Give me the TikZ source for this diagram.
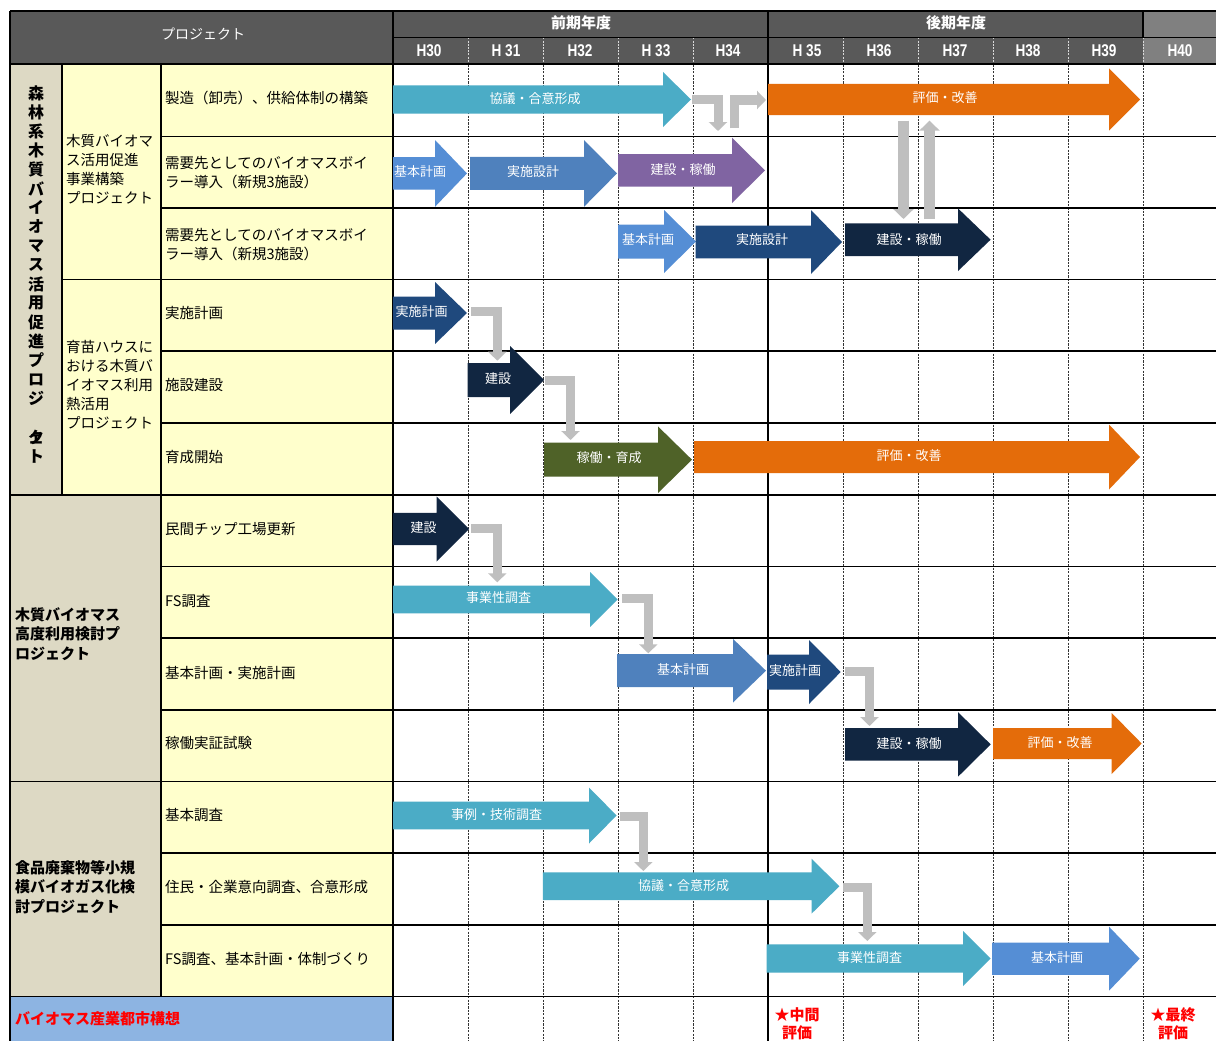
\documentclass[tikz,border=0pt]{standalone}
\usepackage{fontspec}
\setmainfont{Noto Sans CJK JP}
\newfontfamily\yearf[FakeStretch=0.8]{Liberation Sans}
\usetikzlibrary{arrows.meta}
\definecolor{hdr}{HTML}{595959}
\definecolor{hdrl}{HTML}{808080}
\definecolor{beige}{HTML}{DDD9C4}
\definecolor{cream}{HTML}{FFFFCC}
\definecolor{lastb}{HTML}{8DB4E2}
\definecolor{teal}{HTML}{4BACC6}
\definecolor{lblue}{HTML}{558ED5}
\definecolor{mblue}{HTML}{4F81BD}
\definecolor{purp}{HTML}{8064A2}
\definecolor{navy}{HTML}{1F497D}
\definecolor{dnavy}{HTML}{112641}
\definecolor{orng}{HTML}{E46C0A}
\definecolor{olive}{HTML}{4F6228}
\definecolor{cgray}{HTML}{BFBFBF}
\definecolor{redt}{HTML}{FF0000}
% color, x left, x head start, x tip, y centre, half body, half head
\newcommand\blockarrow[7]{%
  \fill[#1] (#2,#5-#6) -- (#3,#5-#6) -- (#3,#5-#7) -- (#4,#5) -- (#3,#5+#7) -- (#3,#5+#6) -- (#2,#5+#6) -- cycle;}
\tikzset{
  bline/.style={draw=black, line width=1.3pt},
  hdash/.style={draw=white!85!black, line width=0.9pt, dash pattern=on 2pt off 1.2pt},
  bdash/.style={draw=black!80, line width=0.9pt, dash pattern=on 2.2pt off 1.2pt},
  rowlbl/.style={anchor=west, inner sep=0, align=left, font=\fontsize{14.5}{19.2}\selectfont},
  colb/.style={anchor=west, inner sep=0, align=left, font=\fontsize{14.5}{19}\selectfont},
  grplbl/.style={anchor=west, inner sep=0, align=left, font=\bfseries\fontsize{15}{19.4}\selectfont},
  vch/.style={inner sep=0, font=\bfseries\fontsize{16}{16}\selectfont},
  hdrtxt/.style={text=white, inner sep=0, font=\fontsize{14}{14}\selectfont},
  pertxt/.style={text=white, inner sep=0, font=\bfseries\fontsize{15}{15}\selectfont},
  yeartxt/.style={text=white, inner sep=0, font=\yearf\bfseries\fontsize{17}{17}\selectfont},
  albl/.style={text=white, inner sep=0, font=\fontsize{13}{13}\selectfont},
  evaltxt/.style={text=redt, inner sep=0, align=center, font=\bfseries\fontsize{15}{18}\selectfont},
  conn/.style={draw=cgray, line width=9pt, line join=miter, -{Triangle[width=18pt,length=9pt]}},
  vconn/.style={draw=cgray, line width=10.5pt, -{Triangle[width=20pt,length=10pt]}},
}
\begin{document}
\begin{tikzpicture}[x=1pt,y=-1pt]
\useasboundingbox[fill=white] (0,0) rectangle (1216,1041);
% ---------- fills
\fill[hdr] (10,11) rectangle (1143,64.5);
\fill[hdrl] (1143,11) rectangle (1216,64.5);
\fill[beige] (10,64.5) rectangle (62,495);
\fill[cream] (62,64.5) rectangle (393,996.5);
\fill[beige] (10,495) rectangle (161,996.5);
\fill[lastb] (10,996.5) rectangle (393,1041);
% ---------- grid lines
\foreach \x in {468,543,618,693,843,918,993,1068,1143} {
  \draw[hdash] (\x,37.5) -- (\x,64.5);
  \draw[bdash] (\x,64.5) -- (\x,1041);
}
\draw[bline] (10,11) -- (1216,11);
\draw[bline] (393,37.5) -- (1216,37.5);
\draw[bline,line width=2pt] (10,64.5) -- (1216,64.5);
\foreach \y in {136.5,208,351,423,566.5,638,710,853,925}
  \draw[bline] (161,\y) -- (1216,\y);
\draw[bline] (62,279.5) -- (1216,279.5);
\foreach \y in {495,781.5,996.5}
  \draw[bline] (10,\y) -- (1216,\y);
\draw[bline] (10,11) -- (10,1041);
\draw[bline] (62,64.5) -- (62,495);
\draw[bline] (161,64.5) -- (161,996.5);
\draw[bline,line width=1.8pt] (393,11) -- (393,1041);
\draw[bline] (768,11) -- (768,1041);
\draw[bline] (1143,11) -- (1143,37.5);
% ---------- header texts
\node[hdrtxt] (hproj) at (203,34) {プロジェクト};
\node[pertxt] (hfirst) at (581,22.5) {前期年度};
\node[pertxt] (hsecond) at (956,22.5) {後期年度};
\node[yeartxt] (y30) at (429,50.5) {H30};
\node[yeartxt] (y31) at (506,50.5) {H 31};
\node[yeartxt] (y32) at (580,50.5) {H32};
\node[yeartxt] (y33) at (656,50.5) {H 33};
\node[yeartxt] (y34) at (728,50.5) {H34};
\node[yeartxt] (y35) at (807,50.5) {H 35};
\node[yeartxt] (y36) at (879,50.5) {H36};
\node[yeartxt] (y37) at (955,50.5) {H37};
\node[yeartxt] (y38) at (1028,50.5) {H38};
\node[yeartxt] (y39) at (1104,50.5) {H39};
\node[yeartxt] (y40) at (1180,50.5) {H40};
% ---------- left column texts
\foreach \c [count=\i from 0] in {森,林,系,木,質,バ,イ,オ,マ,ス,活,用,促,進,プ,ロ,ジ}
  \node[vch] (v\i) at (36,93.3+19.08*\i) {\c};
\node[vch] (v18) at (36,437.5) {\makebox[0pt]{ェ}\makebox[0pt]{ク}};
\node[vch] (v19) at (36,456.5) {ト};
\node[colb] (b1) at (66,169) {木質バイオマ\\ス活用促進\\事業構築\\プロジェクト};
\node[colb] (b2) at (66,384.7) {育苗ハウスに\\おける木質バ\\イオマス利用\\熱活用\\プロジェクト};
\node[grplbl] (g2) at (15,634) {木質バイオマス\\高度利用検討プ\\ロジェクト};
\node[grplbl] (g3) at (15,887) {食品廃棄物等小規\\模バイオガス化検\\討プロジェクト};
\node[grplbl,text=redt] (g4) at (15,1019) {バイオマス産業都市構想};
\node[rowlbl] (r1) at (165,98.3) {製造（卸売）、供給体制の構築};
\node[rowlbl] (r2) at (165,173) {需要先としてのバイオマスボイ\\ラー導入（新規3施設）};
\node[rowlbl] (r3) at (165,244.3) {需要先としてのバイオマスボイ\\ラー導入（新規3施設）};
\node[rowlbl] (r4) at (165,313.3) {実施計画};
\node[rowlbl] (r5) at (165,385) {施設建設};
\node[rowlbl] (r6) at (165,456.7) {育成開始};
\node[rowlbl] (r7) at (165,528.6) {民間チップ工場更新};
\node[rowlbl] (r8) at (165,600.7) {FS調査};
\node[rowlbl] (r9) at (165,672.7) {基本計画・実施計画};
\node[rowlbl] (r10) at (165,743) {稼働実証試験};
\node[rowlbl] (r11) at (165,815) {基本調査};
\node[rowlbl] (r12) at (165,887) {住民・企業意向調査、合意形成};
\node[rowlbl] (r13) at (165,959) {FS調査、基本計画・体制づくり};
% ---------- block arrows
\blockarrow{teal}{393}{663}{691}{99.5}{14}{27.5}
\blockarrow{orng}{768}{1109}{1140}{99.5}{15.5}{31}
\blockarrow{lblue}{393}{435}{467}{173.4}{16.3}{33.4}
\blockarrow{mblue}{470}{584}{617}{173.4}{16.5}{33.4}
\blockarrow{purp}{618}{732}{765}{170.4}{16.3}{32.7}
\blockarrow{lblue}{618}{664}{696}{241.5}{17}{31.5}
\blockarrow{navy}{695.7}{811}{842}{242}{16.3}{32}
\blockarrow{dnavy}{845}{958}{990.6}{239.7}{16.3}{31.3}
\blockarrow{navy}{393}{435}{467}{313}{16.5}{31}
\blockarrow{dnavy}{467.7}{510}{544}{380}{17}{34}
\blockarrow{olive}{544}{658}{692}{459.7}{17}{33.3}
\blockarrow{orng}{694}{1109}{1140}{457}{16}{32.5}
\blockarrow{dnavy}{393}{436.7}{469}{529}{16.2}{32.5}
\blockarrow{teal}{393}{590}{617.7}{599.5}{13.8}{27.5}
\blockarrow{mblue}{617}{733}{766}{670.7}{16.5}{31.8}
\blockarrow{navy}{767}{809}{840.7}{672}{17.5}{32}
\blockarrow{dnavy}{845}{958}{990.7}{744.4}{16.3}{32.3}
\blockarrow{orng}{993}{1111.7}{1141.7}{743.5}{15.5}{30.5}
\blockarrow{teal}{393}{589}{616.6}{815.5}{13.8}{28}
\blockarrow{teal}{542.8}{811.5}{839.4}{886.2}{13.8}{27.5}
\blockarrow{teal}{766.7}{963}{990.6}{958.5}{14.2}{27.5}
\blockarrow{lblue}{992}{1109}{1139.7}{958.7}{16.2}{32}
% ---------- arrow labels
\node[albl] (a1) at (535,98.5) {協議・合意形成};
\node[albl] (a2) at (945,97.5) {評価・改善};
\node[albl] (a3) at (420,172) {基本計画};
\node[albl] (a4) at (533,172) {実施設計};
\node[albl] (a5) at (683,170) {建設・稼働};
\node[albl] (a6) at (648,239.5) {基本計画};
\node[albl] (a7) at (762,240) {実施設計};
\node[albl] (a8) at (909,239.5) {建設・稼働};
\node[albl] (a9) at (421.5,311.7) {実施計画};
\node[albl] (a10) at (498,379) {建設};
\node[albl] (a11) at (609,457.7) {稼働・育成};
\node[albl] (a12) at (909,455.5) {評価・改善};
\node[albl] (a13) at (423.7,527.7) {建設};
\node[albl] (a14) at (498.5,597.7) {事業性調査};
\node[albl] (a15) at (683,670) {基本計画};
\node[albl] (a16) at (795,670.7) {実施計画};
\node[albl] (a17) at (909,744) {建設・稼働};
\node[albl] (a18) at (1060,743) {評価・改善};
\node[albl] (a19) at (496.5,814.3) {事例・技術調査};
\node[albl] (a20) at (683.5,886) {協議・合意形成};
\node[albl] (a21) at (869.5,958) {事業性調査};
\node[albl] (a22) at (1057,957.7) {基本計画};
% ---------- evaluation marks
\node[evaltxt] (e1) at (797,1024) {★中間\\評価};
\node[evaltxt] (e2) at (1173,1024) {★最終\\評価};
% ---------- gray connectors
\coordinate (c1a) at (692,99.5);   \coordinate (c1b) at (718,131);
\coordinate (c2a) at (734.5,128);  \coordinate (c2b) at (766,100);
\coordinate (c3a) at (903.5,120.7);\coordinate (c3b) at (903.5,219);
\coordinate (c4a) at (929.5,219);  \coordinate (c4b) at (929.5,120.7);
\coordinate (c5a) at (471,311);    \coordinate (c5b) at (497.3,360.7);
\coordinate (c6a) at (545,380.3);  \coordinate (c6b) at (570.5,440);
\coordinate (c7a) at (471,528.3);  \coordinate (c7b) at (497.3,582.3);
\coordinate (c8a) at (622,598);    \coordinate (c8b) at (648.3,653.3);
\coordinate (c9a) at (845,671.3);  \coordinate (c9b) at (869.5,726);
\coordinate (c10a) at (620,816.8); \coordinate (c10b) at (643.3,871);
\coordinate (c11a) at (843,887);   \coordinate (c11b) at (867.3,941);
\draw[conn] (c1a) -| (c1b);
\draw[conn] (c2a) |- (c2b);
\draw[vconn] (c3a) -- (c3b);
\draw[vconn] (c4a) -- (c4b);
\draw[conn] (c5a) -| (c5b);
\draw[conn] (c6a) -| (c6b);
\draw[conn] (c7a) -| (c7b);
\draw[conn] (c8a) -| (c8b);
\draw[conn] (c9a) -| (c9b);
\draw[conn] (c10a) -| (c10b);
\draw[conn] (c11a) -| (c11b);
\end{tikzpicture}
\end{document}
